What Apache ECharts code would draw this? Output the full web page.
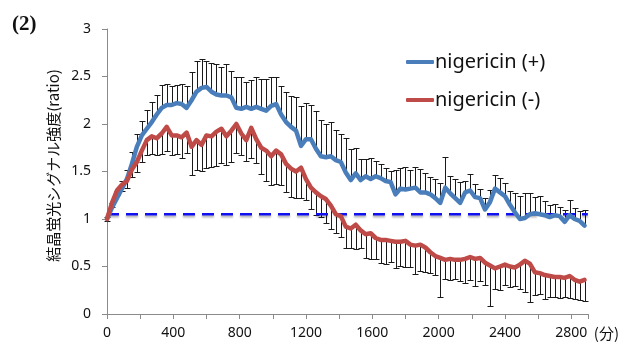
<!DOCTYPE html>
<html>
<head>
<meta charset="utf-8">
<script src="https://cdn.jsdelivr.net/npm/echarts@6/dist/echarts.min.js"></script>
<style>
  html, body { margin: 0; padding: 0; background: #fff; }
  #chart { width: 622px; height: 345px; }
</style>
</head>
<body>
<div id="chart"></div>
<script>
// time points (min), every 30 min
const times = [];
for (let t = 0; t <= 2880; t += 30) times.push(t);

const plusMean = [
  1.00, 1.12, 1.22, 1.32, 1.42, 1.58, 1.76, 1.88, 1.95, 2.02,
  2.10, 2.17, 2.20, 2.20, 2.22, 2.21, 2.17, 2.25, 2.34, 2.38,
  2.39, 2.34, 2.31, 2.30, 2.30, 2.28, 2.17, 2.16, 2.18, 2.16,
  2.18, 2.16, 2.14, 2.19, 2.21, 2.10, 2.02, 1.97, 1.93, 1.77,
  1.84, 1.84, 1.74, 1.66, 1.65, 1.66, 1.62, 1.60, 1.49, 1.41,
  1.48, 1.41, 1.45, 1.42, 1.45, 1.43, 1.40, 1.39, 1.26, 1.32,
  1.31, 1.32, 1.33, 1.28, 1.28, 1.26, 1.22, 1.17, 1.33, 1.27,
  1.22, 1.17, 1.28, 1.30, 1.23, 1.22, 1.10, 1.18, 1.32, 1.28,
  1.24, 1.15, 1.07, 1.00, 1.01, 1.05, 1.06, 1.05, 1.04, 1.02,
  1.04, 1.03, 0.97, 1.04, 1.00, 0.98, 0.93
];
const plusErr = [
  0.02, 0.05, 0.07, 0.08, 0.10, 0.13, 0.14, 0.15, 0.20, 0.21,
  0.20, 0.24, 0.22, 0.20, 0.19, 0.21, 0.23, 0.30, 0.32, 0.30,
  0.27, 0.30, 0.32, 0.30, 0.33, 0.28, 0.32, 0.33, 0.26, 0.30,
  0.32, 0.31, 0.33, 0.30, 0.28, 0.30, 0.32, 0.33, 0.35, 0.42,
  0.38, 0.36, 0.40, 0.38, 0.35, 0.36, 0.32, 0.30, 0.36, 0.33,
  0.27, 0.22, 0.18, 0.22, 0.16, 0.15, 0.14, 0.12, 0.26, 0.22,
  0.24, 0.20, 0.22, 0.25, 0.20, 0.18, 0.20, 0.21, 0.32, 0.18,
  0.20, 0.22, 0.12, 0.17, 0.14, 0.10, 0.12, 0.13, 0.14, 0.15,
  0.14, 0.15, 0.20, 0.24, 0.26, 0.22, 0.17, 0.19, 0.15, 0.13,
  0.12, 0.10, 0.13, 0.16, 0.12, 0.10, 0.16
];
const minusMean = [
  1.00, 1.17, 1.30, 1.36, 1.40, 1.52, 1.60, 1.72, 1.83, 1.87,
  1.85, 1.90, 1.97, 1.88, 1.88, 1.86, 1.91, 1.76, 1.83, 1.78,
  1.88, 1.87, 1.92, 1.95, 1.87, 1.93, 2.00, 1.90, 1.83, 1.96,
  1.84, 1.75, 1.72, 1.66, 1.72, 1.68, 1.58, 1.53, 1.50, 1.54,
  1.42, 1.33, 1.28, 1.24, 1.21, 1.14, 1.05, 1.03, 0.92, 0.90,
  0.94, 0.88, 0.84, 0.85, 0.80, 0.78, 0.78, 0.77, 0.76, 0.76,
  0.77, 0.73, 0.72, 0.73, 0.70, 0.65, 0.61, 0.59, 0.57, 0.58,
  0.57, 0.57, 0.58, 0.60, 0.58, 0.59, 0.54, 0.51, 0.48, 0.50,
  0.52, 0.50, 0.49, 0.52, 0.56, 0.53, 0.44, 0.43, 0.41, 0.40,
  0.39, 0.39, 0.38, 0.40, 0.36, 0.34, 0.36
];
const minusErr = [
  0.02, 0.04, 0.05, 0.06, 0.07, 0.08, 0.10, 0.12, 0.16, 0.19,
  0.18, 0.22, 0.25, 0.21, 0.20, 0.22, 0.22, 0.30, 0.31, 0.27,
  0.34, 0.32, 0.36, 0.36, 0.30, 0.33, 0.30, 0.23, 0.22, 0.32,
  0.25, 0.28, 0.32, 0.30, 0.35, 0.32, 0.30, 0.30, 0.28, 0.32,
  0.22, 0.22, 0.24, 0.22, 0.25, 0.24, 0.20, 0.22, 0.22, 0.20,
  0.26, 0.18, 0.25, 0.27, 0.22, 0.24, 0.25, 0.22, 0.28, 0.25,
  0.27, 0.24, 0.30, 0.28, 0.26, 0.22, 0.20, 0.41, 0.20, 0.22,
  0.20, 0.22, 0.25, 0.24, 0.28, 0.24, 0.23, 0.43, 0.22, 0.25,
  0.21, 0.22, 0.20, 0.26, 0.33, 0.40, 0.24, 0.22, 0.25, 0.22,
  0.21, 0.22, 0.20, 0.23, 0.20, 0.19, 0.22
];
const baseline = 1.05;
const xMax = 2900;
const seriesNames = ["nigericin (+)", "nigericin (-)"];

const pairs = (ys) => times.map((t, i) => [t, ys[i]]);
const errData = (ys, es) => times.map((t, i) => [t, ys[i], es[i]]);

function errorBar(dir) {
  return function (params, api) {
    const x = api.value(0);
    const v = api.value(1);
    const e = api.value(2);
    const p0 = api.coord([x, v]);
    const p1 = api.coord([x, v + dir * e]);
    const px = Math.round(p0[0]) + 0.5;
    const py = Math.round(p1[1]) + 0.5;
    const style = { stroke: "#1a1a1a", lineWidth: 1 };
    return {
      type: "group",
      children: [
        { type: "line", shape: { x1: px, y1: p0[1], x2: px, y2: py }, style: style },
        { type: "line", shape: { x1: px - 3, y1: py, x2: px + 3, y2: py }, style: style },
      ],
    };
  };
}

const myChart = echarts.init(document.getElementById("chart"));
const option = {
  animation: false,
  title: {
    text: "(2)",
    left: 7,
    top: 9,
    textStyle: { fontFamily: "Liberation Serif", fontSize: 21, fontWeight: "bold", color: "#111" },
  },
  grid: { left: 107, right: 29, top: 29, bottom: 31 },
  legend: {
    data: seriesNames,
    orient: "vertical",
    left: 401,
    top: 47,
    itemGap: 18,
    itemWidth: 28,
    itemHeight: 4,
    icon: "roundRect",
    textStyle: { fontFamily: "Noto Sans", fontSize: 20, color: "#111", padding: [0, 0, 0, -4] },
  },
  xAxis: {
    type: "value",
    min: 0,
    max: xMax,
    interval: 200,
    splitLine: { show: false },
    axisLine: { lineStyle: { color: "#8a8a8a" } },
    axisTick: { length: 5, lineStyle: { color: "#8a8a8a" } },
    axisLabel: {
      fontFamily: "Noto Sans",
      fontSize: 14,
      color: "#111",
      margin: 12,
      formatter: (v) => (v % 400 === 0 ? String(v) : ""),
    },
    name: "(分)",
    nameLocation: "end",
    nameGap: 6,
    nameTextStyle: { fontFamily: "Noto Sans CJK JP", fontSize: 15, color: "#111", verticalAlign: "top", padding: [12, 0, 0, 0] },
  },
  yAxis: {
    type: "value",
    min: 0,
    max: 3,
    interval: 0.5,
    splitLine: { show: false },
    axisLine: { show: true, lineStyle: { color: "#8a8a8a" } },
    axisTick: { show: true, length: 5, lineStyle: { color: "#8a8a8a" } },
    axisLabel: { fontFamily: "Noto Sans", fontSize: 14, color: "#111", margin: 16 },
    name: "結晶蛍光シグナル強度(ratio)",
    nameLocation: "middle",
    nameGap: 46,
    nameTextStyle: { fontFamily: "Noto Sans CJK JP", fontSize: 15, color: "#111", padding: [0, 0, 0, 12] },
  },
  series: [
    {
      name: "plusErr",
      type: "custom",
      renderItem: errorBar(1),
      data: errData(plusMean, plusErr),
      encode: { x: 0, y: 1 },
      z: 1,
      silent: true,
    },
    {
      name: "minusErr",
      type: "custom",
      renderItem: errorBar(-1),
      data: errData(minusMean, minusErr),
      encode: { x: 0, y: 1 },
      z: 1,
      silent: true,
    },
    {
      name: "baseline",
      type: "line",
      data: [[0, baseline], [xMax, baseline]],
      showSymbol: false,
      lineStyle: {
        color: "#1010f0",
        width: 2.5,
        type: [12, 7],
        shadowColor: "rgba(0,0,0,0.3)",
        shadowBlur: 2,
        shadowOffsetY: 2,
      },
      z: 2,
      silent: true,
    },
    {
      name: seriesNames[0],
      type: "line",
      data: pairs(plusMean),
      showSymbol: false,
      itemStyle: { color: "#4a7ebb" },
      lineStyle: { color: "#4a7ebb", width: 4.5, cap: "round", join: "round" },
      z: 3,
    },
    {
      name: seriesNames[1],
      type: "line",
      data: pairs(minusMean),
      showSymbol: false,
      itemStyle: { color: "#be4b48" },
      lineStyle: { color: "#be4b48", width: 4.5, cap: "round", join: "round" },
      z: 4,
    },
  ],
};
myChart.setOption(option);
</script>
</body>
</html>
